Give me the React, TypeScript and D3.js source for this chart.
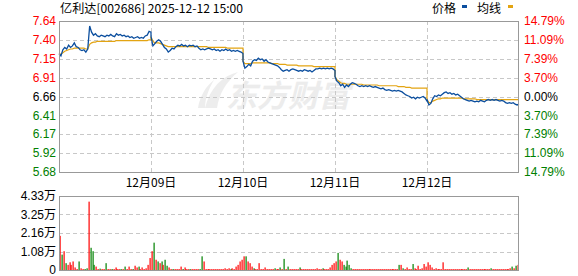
import React from "react";
import * as d3 from "d3";

const stockTitle = "亿利达[002686] 2025-12-12 15:00";
const prevClose = 6.66;
const pctTicks = [14.79, 11.09, 7.39, 3.7, 0, -3.7, -7.39, -11.09, -14.79];
const priceTickLabels = ["7.64", "7.40", "7.15", "6.91", "6.66", "6.41", "6.17", "5.92", "5.68"];
const pctTickLabels = ["14.79%", "11.09%", "7.39%", "3.70%", "0.00%", "3.70%", "7.39%", "11.09%", "14.79%"];
const dayLabels = ["12月09日", "12月10日", "12月11日", "12月12日"];
const volTicks = [0, 1.08, 2.16, 3.25, 4.33];
const volTickLabels = ["0", "1.08万", "2.16万", "3.25万", "4.33万"];

// price every 5 minutes per trading day (49 points: 0..240 min)
const price1 = [7.22,7.19,7.27,7.30,7.28,7.33,7.30,7.32,7.36,7.31,7.30,7.27,7.26,7.27,7.24,7.28,7.58,7.50,7.46,7.48,7.45,7.44,7.46,7.45,7.44,7.46,7.45,7.47,7.45,7.44,7.48,7.46,7.47,7.45,7.46,7.44,7.45,7.43,7.44,7.42,7.43,7.44,7.42,7.43,7.42,7.45,7.46,7.51,7.50];
const price2 = [7.44,7.32,7.35,7.38,7.40,7.38,7.34,7.30,7.28,7.24,7.26,7.29,7.28,7.31,7.33,7.32,7.34,7.32,7.33,7.31,7.33,7.32,7.33,7.31,7.32,7.29,7.27,7.28,7.27,7.28,7.29,7.28,7.27,7.28,7.26,7.27,7.25,7.27,7.26,7.28,7.26,7.27,7.25,7.26,7.25,7.26,7.25,7.24,7.22];
const price3 = [7.12,7.03,7.05,7.08,7.06,7.12,7.14,7.13,7.16,7.14,7.15,7.12,7.14,7.11,7.10,7.09,7.08,7.07,7.06,7.04,7.01,6.99,7.00,7.01,6.99,7.01,7.02,7.01,7.00,6.99,7.00,6.99,7.01,7.00,6.99,7.00,6.98,7.00,7.02,7.02,7.03,7.02,7.03,7.02,7.03,7.02,7.03,7.02,7.00];
const price4 = [6.92,6.86,6.84,6.80,6.82,6.78,6.81,6.79,6.82,6.84,6.83,6.82,6.80,6.79,6.80,6.79,6.80,6.79,6.80,6.79,6.78,6.79,6.78,6.77,6.76,6.77,6.75,6.74,6.75,6.74,6.73,6.74,6.73,6.74,6.73,6.72,6.70,6.68,6.67,6.66,6.64,6.65,6.63,6.65,6.64,6.65,6.66,6.64,6.60];
const price5 = [6.62,6.55,6.57,6.63,6.67,6.66,6.68,6.67,6.69,6.71,6.72,6.70,6.71,6.69,6.70,6.68,6.69,6.67,6.65,6.63,6.62,6.61,6.60,6.61,6.60,6.59,6.60,6.59,6.61,6.60,6.59,6.61,6.62,6.61,6.62,6.61,6.62,6.61,6.60,6.61,6.60,6.58,6.57,6.58,6.57,6.58,6.56,6.55,6.56];

const avg1 = [7.22,7.21,7.23,7.25,7.26,7.27,7.28,7.28,7.29,7.29,7.29,7.29,7.29,7.29,7.28,7.28,7.34,7.36,7.37,7.37,7.38,7.38,7.38,7.38,7.38,7.38,7.38,7.38,7.38,7.38,7.39,7.39,7.39,7.39,7.39,7.39,7.39,7.39,7.39,7.39,7.39,7.39,7.39,7.39,7.39,7.39,7.39,7.40,7.40];
const avg2 = [7.44,7.38,7.36,7.36,7.36,7.35,7.34,7.33,7.32,7.31,7.31,7.31,7.31,7.31,7.31,7.31,7.31,7.31,7.31,7.31,7.31,7.31,7.31,7.31,7.31,7.31,7.31,7.31,7.31,7.31,7.30,7.30,7.30,7.30,7.30,7.30,7.30,7.30,7.30,7.30,7.29,7.29,7.29,7.29,7.29,7.29,7.29,7.29,7.29];
const avg3 = [7.12,7.09,7.09,7.09,7.09,7.10,7.10,7.10,7.10,7.10,7.10,7.10,7.10,7.10,7.10,7.09,7.09,7.09,7.09,7.08,7.08,7.08,7.08,7.07,7.07,7.07,7.07,7.07,7.07,7.06,7.06,7.06,7.06,7.06,7.06,7.06,7.06,7.05,7.05,7.05,7.05,7.05,7.05,7.05,7.05,7.05,7.05,7.05,7.05];
const avg4 = [6.92,6.88,6.86,6.84,6.83,6.83,6.82,6.82,6.82,6.82,6.82,6.82,6.82,6.82,6.82,6.81,6.81,6.81,6.81,6.81,6.81,6.81,6.81,6.80,6.80,6.80,6.80,6.80,6.80,6.80,6.80,6.80,6.80,6.79,6.79,6.79,6.79,6.78,6.78,6.78,6.77,6.77,6.77,6.77,6.77,6.77,6.77,6.77,6.77];
const avg5 = [6.62,6.58,6.58,6.60,6.61,6.62,6.63,6.63,6.64,6.64,6.64,6.64,6.64,6.64,6.64,6.64,6.64,6.64,6.64,6.63,6.63,6.63,6.63,6.63,6.63,6.63,6.62,6.62,6.62,6.62,6.62,6.62,6.62,6.62,6.62,6.62,6.62,6.62,6.62,6.62,6.62,6.62,6.62,6.62,6.62,6.62,6.62,6.62,6.62];

// volume (万) per 5-minute slot, 48 slots per day, with r=up / g=down
const vol1 = [2.0,0.9,1.1,0.4,0.3,0.45,0.3,0.5,0.15,0.05,0.5,0.1,0.05,0.05,0.1,4.0,1.3,1.1,0.3,0.2,0.05,0.08,0.04,0.05,0.4,0.05,0.03,0.04,0.05,0.15,0.04,0.03,0.05,0.04,0.2,0.05,0.2,0.04,0.05,0.25,0.15,0.2,0.05,0.15,0.05,0.1,0.3,0.7];
const dir1 = "rgrgrrrrrrgrrggrgggrrgrrgrrgrrrrgrgrrrgrrgrrrrrr";
const vol2 = [1.1,1.6,0.6,0.5,0.4,0.5,0.3,0.6,0.25,0.15,0.05,0.04,0.05,0.04,0.05,0.2,0.05,0.15,0.03,0.04,0.05,0.03,0.04,0.03,0.05,0.04,0.8,0.5,0.04,0.03,0.03,0.03,0.03,0.03,0.03,0.03,0.04,0.03,0.1,0.05,0.1,0.05,0.1,0.05,0.2,0.3,0.5,0.6];
const dir2 = "rgrgrgrggrrgrrrrgrrrgrrrrggrrrrrrrrrrrrrrgrrrrrr";
const vol3 = [0.8,0.8,0.5,0.4,0.2,0.1,0.05,0.05,0.4,0.05,0.04,0.15,0.04,0.03,0.03,0.03,0.1,0.03,0.04,0.15,0.03,0.65,0.04,0.2,0.03,0.03,0.03,0.04,0.03,0.15,0.03,0.03,0.03,0.03,0.03,0.03,0.03,0.03,0.1,0.03,0.03,0.1,0.03,0.03,0.03,0.15,0.3,0.4];
const dir3 = "rgrrrgrrrrrrrrrrgrrgrgrgrrrrrgrrrrrrrrrrrgrrrrrr";
const vol4 = [0.5,1.0,0.6,0.5,0.3,0.2,0.55,0.3,0.1,0.05,0.03,0.03,0.03,0.03,0.03,0.03,0.03,0.03,0.03,0.03,0.03,0.03,0.03,0.03,0.03,0.03,0.03,0.03,0.03,0.03,0.03,0.03,0.03,0.3,0.3,0.1,0.03,0.15,0.03,0.03,0.35,0.1,0.03,0.25,0.05,0.1,0.35,0.2];
const dir4 = "rgrrgggggrrrrrrrrrrrrrrrrrrrrrrrrgrgrrrrgrrrrrrr";
const vol5 = [0.45,0.3,0.15,0.05,0.1,0.05,0.03,0.05,0.45,0.03,0.03,0.03,0.03,0.03,0.03,0.03,0.03,0.03,0.03,0.03,0.03,0.15,0.03,0.03,0.03,0.03,0.03,0.03,0.03,0.03,0.03,0.03,0.03,0.1,0.03,0.03,0.03,0.03,0.03,0.03,0.03,0.03,0.03,0.1,0.2,0.1,0.25,0.3];
const dir5 = "rrrrrrrrrrrrrrrrrrrrrgrrrrrrrrrrrgrrrrrrrrrrgrgr";

const priceDays = [price1, price2, price3, price4, price5];
const avgDays = [avg1, avg2, avg3, avg4, avg5];
const volDays = [vol1, vol2, vol3, vol4, vol5];
const dirDays = [dir1, dir2, dir3, dir4, dir5];

const RED = "#ff0000";
const GREEN = "#008000";
const BLUE = "#0b4e9e";
const GOLD = "#e3a412";
const NUM_FONT = "'Liberation Sans', Arial, 'Noto Sans CJK SC', sans-serif";
const CJK_FONT = "'Noto Sans CJK SC', 'Liberation Sans', sans-serif";

const L = 59, R = 519, T = 21, B = 172, VT = 196, VB = 270;
const MIN_PER_DAY = 240;

export default function App() {
  const nDays = priceDays.length;
  const x = d3.scaleLinear().domain([0, nDays * MIN_PER_DAY]).range([L, R]);
  const yPct = d3.scaleLinear().domain([-14.79, 14.79]).range([B, T]);
  const yPrice = (p: number) => yPct((p / prevClose - 1) * 100);
  const yVol = d3.scaleLinear().domain([0, 4.33]).range([VB, VT]);

  const pricePts = priceDays.flatMap((arr, d) => arr.map((p, i) => [d * MIN_PER_DAY + i * 5, p] as [number, number]));
  const avgPts = avgDays.flatMap((arr, d) => arr.map((p, i) => [d * MIN_PER_DAY + i * 5, p] as [number, number]));
  const line = d3.line<[number, number]>().x((d) => x(d[0])).y((d) => yPrice(d[1]));

  const bars = volDays.flatMap((arr, d) =>
    arr.map((v, i) => ({ m: d * MIN_PER_DAY + i * 5 + 2.5, v, up: dirDays[d][i] === "r" }))
  );

  const colorFor = (p: number) => (p > 0 ? RED : p < 0 ? GREEN : "#000");
  const dayBounds = d3.range(1, nDays).map((d) => d * MIN_PER_DAY);

  return (
    <svg width={578} height={276} style={{ position: "absolute", left: 0, top: 0, background: "#fff" }}>
      {/* title */}
      <text x={60} y={13} fontSize={12} fontFamily={CJK_FONT} textLength={183} lengthAdjust="spacingAndGlyphs" fill="#000">
        {stockTitle}
      </text>
      {/* legend */}
      <text x={432} y={13} fontSize={12} fontFamily={CJK_FONT} fill="#000">价格</text>
      <rect x={462} y={5} width={5} height={3} fill={BLUE} />
      <text x={477} y={13} fontSize={12} fontFamily={CJK_FONT} fill="#000">均线</text>
      <rect x={508} y={5} width={5} height={3} fill={GOLD} />

      {/* watermark */}
      <g opacity={0.9}>
        <path d="M205,108 C210,88 222,76 238,72 C226,82 219,94 217,108 Z" fill="#ececec" />
        <path d="M198,108 C200,96 206,86 214,80 C208,90 205,99 205,108 Z" fill="#ececec" />
        <text x={226} y={107} fontSize={31} fontWeight="bold" fontStyle="italic" fontFamily={CJK_FONT} fill="#ebebeb">东方财富</text>
      </g>

      {/* price grid */}
      {pctTicks.slice(1, -1).map((p, i) => (
        <line key={"hg" + i} x1={L} x2={R} y1={Math.round(yPct(p)) + 0.5} y2={Math.round(yPct(p)) + 0.5} stroke="#c8c8c8" strokeDasharray="4,3" />
      ))}
      {dayBounds.map((m, i) => (
        <line key={"vg" + i} x1={Math.round(x(m)) + 0.5} x2={Math.round(x(m)) + 0.5} y1={T} y2={B} stroke="#c8c8c8" strokeDasharray="4,3" />
      ))}

      {/* lines */}
      <path d={line(avgPts) || ""} fill="none" stroke={GOLD} strokeWidth={1.2} />
      <path d={line(pricePts) || ""} fill="none" stroke={BLUE} strokeWidth={1.3} />

      {/* price frame */}
      <rect x={L + 0.5} y={T + 0.5} width={R - L - 1} height={B - T} fill="none" stroke="#999" />

      {/* left price labels */}
      {pctTicks.map((p, i) => (
        <text key={"pl" + i} x={56} y={yPct(p)} dy="0.35em" textAnchor="end" fontSize={12} fontFamily={NUM_FONT} fill={colorFor(p)}>
          {priceTickLabels[i]}
        </text>
      ))}
      {/* right pct labels */}
      {pctTicks.map((p, i) => (
        <text key={"pr" + i} x={524} y={yPct(p)} dy="0.35em" textAnchor="start" fontSize={12} fontFamily={NUM_FONT} fill={colorFor(p)}>
          {pctTickLabels[i]}
        </text>
      ))}

      {/* day labels */}
      {dayBounds.map((m, i) => (
        <text key={"dl" + i} x={x(m)} y={187} textAnchor="middle" fontSize={12} fontFamily={CJK_FONT} fill="#000">
          {dayLabels[i]}
        </text>
      ))}

      {/* volume grid */}
      {volTicks.slice(1, -1).map((v, i) => (
        <line key={"vgh" + i} x1={L} x2={R} y1={Math.round(yVol(v)) + 0.5} y2={Math.round(yVol(v)) + 0.5} stroke="#c8c8c8" strokeDasharray="4,3" />
      ))}

      {/* volume bars */}
      {bars.map((b, i) => {
        const top = yVol(b.v);
        const h = Math.max(1, VB - top);
        return (
          <rect key={"vb" + i} x={Math.round(x(b.m)) - 0.5} y={VB - h} width={1.2} height={h} fill={b.up ? RED : GREEN} />
        );
      })}

      {/* volume frame */}
      <rect x={L + 0.5} y={VT + 0.5} width={R - L - 1} height={VB - VT} fill="none" stroke="#999" />

      {/* volume labels */}
      {volTicks.map((v, i) => (
        <text key={"vl" + i} x={56} y={yVol(v)} dy="0.35em" textAnchor="end" fontSize={12} fontFamily={NUM_FONT} fill="#000">
          {volTickLabels[i]}
        </text>
      ))}
    </svg>
  );
}
